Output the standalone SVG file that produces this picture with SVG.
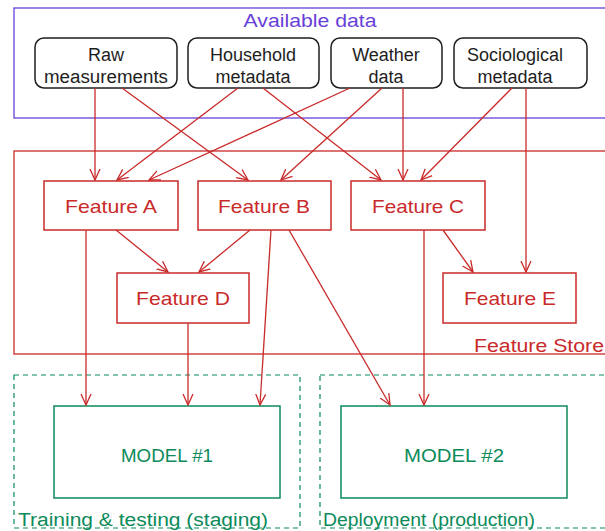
<svg xmlns="http://www.w3.org/2000/svg" width="605" height="531" viewBox="0 0 605 531">
<style>
text{font-family:"Liberation Sans","DejaVu Sans",sans-serif;font-size:17px;text-anchor:middle}
.src rect{fill:#fff;stroke:#1e1e1e;stroke-width:1.5}
.src text{fill:#1e1e1e;font-size:18px}
.feat rect{fill:#fff;stroke:#c92a2a;stroke-width:1.5}
.feat text{fill:#c92a2a;font-size:19px}
.model rect{fill:#fff;stroke:#0c8a5a;stroke-width:1.5}
.model text{fill:#0c8a5a;font-size:18px}
.zone{fill:none}
.conn line{stroke:#c92a2a;stroke-width:1.3;marker-end:url(#ah)}
</style>
<defs>
<marker id="ah" viewBox="0 0 12 12" refX="11" refY="6" markerWidth="12" markerHeight="12" markerUnits="userSpaceOnUse" orient="auto">
<path d="M0,1 L11,6 L0,11" fill="none" stroke="#c92a2a" stroke-width="1.3"/>
</marker>
</defs>
<rect width="605" height="531" fill="#fff"/>
<g id="available-data">
<rect class="zone" x="14" y="8" width="600" height="110" stroke="#6741d9" stroke-width="1.3"/>
<text x="310" y="27" fill="#6741d9" style="font-size:19px" textLength="133" lengthAdjust="spacingAndGlyphs">Available data</text>
</g>
<g id="feature-store">
<rect class="zone" x="14" y="151" width="600" height="203" stroke="#c92a2a" stroke-width="1.3"/>
<text x="474" y="352" fill="#c92a2a" style="text-anchor:start;font-size:18px" textLength="130" lengthAdjust="spacingAndGlyphs">Feature Store</text>
</g>
<g id="staging">
<rect class="zone" x="14" y="375" width="286" height="153" stroke="#0c8a5a" stroke-width="1.2" stroke-dasharray="5 4"/>
<text x="18" y="526" fill="#0c8a5a" style="text-anchor:start;font-size:18px" textLength="250" lengthAdjust="spacingAndGlyphs">Training &amp; testing (staging)</text>
</g>
<g id="production">
<rect class="zone" x="320" y="375" width="300" height="153" stroke="#0c8a5a" stroke-width="1.2" stroke-dasharray="5 4"/>
<text x="323" y="526" fill="#0c8a5a" style="text-anchor:start;font-size:18px" textLength="212" lengthAdjust="spacingAndGlyphs">Deployment (production)</text>
</g>
<g id="raw" class="src"><rect x="35" y="38" width="142" height="50" rx="9"/><text x="106" y="61">Raw</text><text x="106" y="83" textLength="124" lengthAdjust="spacingAndGlyphs">measurements</text></g>
<g id="household" class="src"><rect x="188" y="38" width="131" height="50" rx="9"/><text x="253" y="61">Household</text><text x="253" y="83">metadata</text></g>
<g id="weather" class="src"><rect x="331" y="38" width="111" height="50" rx="9"/><text x="386" y="61">Weather</text><text x="386" y="83">data</text></g>
<g id="socio" class="src"><rect x="454" y="38" width="133" height="50" rx="9"/><text x="515" y="61">Sociological</text><text x="515" y="83">metadata</text></g>
<g id="featA" class="feat"><rect x="44" y="181" width="134" height="49"/><text x="111" y="213" textLength="92" lengthAdjust="spacingAndGlyphs">Feature A</text></g>
<g id="featB" class="feat"><rect x="198" y="181" width="133" height="49"/><text x="264" y="213" textLength="92" lengthAdjust="spacingAndGlyphs">Feature B</text></g>
<g id="featC" class="feat"><rect x="351" y="181" width="134" height="49"/><text x="418" y="213" textLength="92" lengthAdjust="spacingAndGlyphs">Feature C</text></g>
<g id="featD" class="feat"><rect x="117" y="273" width="132" height="50"/><text x="183" y="305" textLength="94" lengthAdjust="spacingAndGlyphs">Feature D</text></g>
<g id="featE" class="feat"><rect x="443" y="273" width="133" height="50"/><text x="510" y="305" textLength="92" lengthAdjust="spacingAndGlyphs">Feature E</text></g>
<g id="model1" class="model"><rect x="54" y="406" width="226" height="92"/><text x="167" y="462" textLength="92" lengthAdjust="spacingAndGlyphs">MODEL #1</text></g>
<g id="model2" class="model"><rect x="341" y="406" width="226" height="92"/><text x="454" y="462" textLength="100" lengthAdjust="spacingAndGlyphs">MODEL #2</text></g>
<g id="connectors" class="conn">
<line x1="95" y1="88" x2="95" y2="180"/>
<line x1="122" y1="88" x2="248" y2="180"/>
<line x1="238" y1="88" x2="117" y2="180"/>
<line x1="263" y1="88" x2="381" y2="180"/>
<line x1="350" y1="88" x2="149" y2="180"/>
<line x1="382" y1="88" x2="281" y2="180"/>
<line x1="403" y1="88" x2="403" y2="180"/>
<line x1="512" y1="88" x2="421" y2="180"/>
<line x1="526" y1="88" x2="526" y2="272"/>
<line x1="116" y1="230" x2="168" y2="272"/>
<line x1="250" y1="230" x2="199" y2="272"/>
<line x1="443" y1="230" x2="473" y2="272"/>
<line x1="86" y1="230" x2="86" y2="405"/>
<line x1="188" y1="323" x2="188" y2="405"/>
<line x1="271" y1="230" x2="260" y2="405"/>
<line x1="289" y1="230" x2="390" y2="405"/>
<line x1="424" y1="230" x2="424" y2="405"/>
</g>
</svg>
